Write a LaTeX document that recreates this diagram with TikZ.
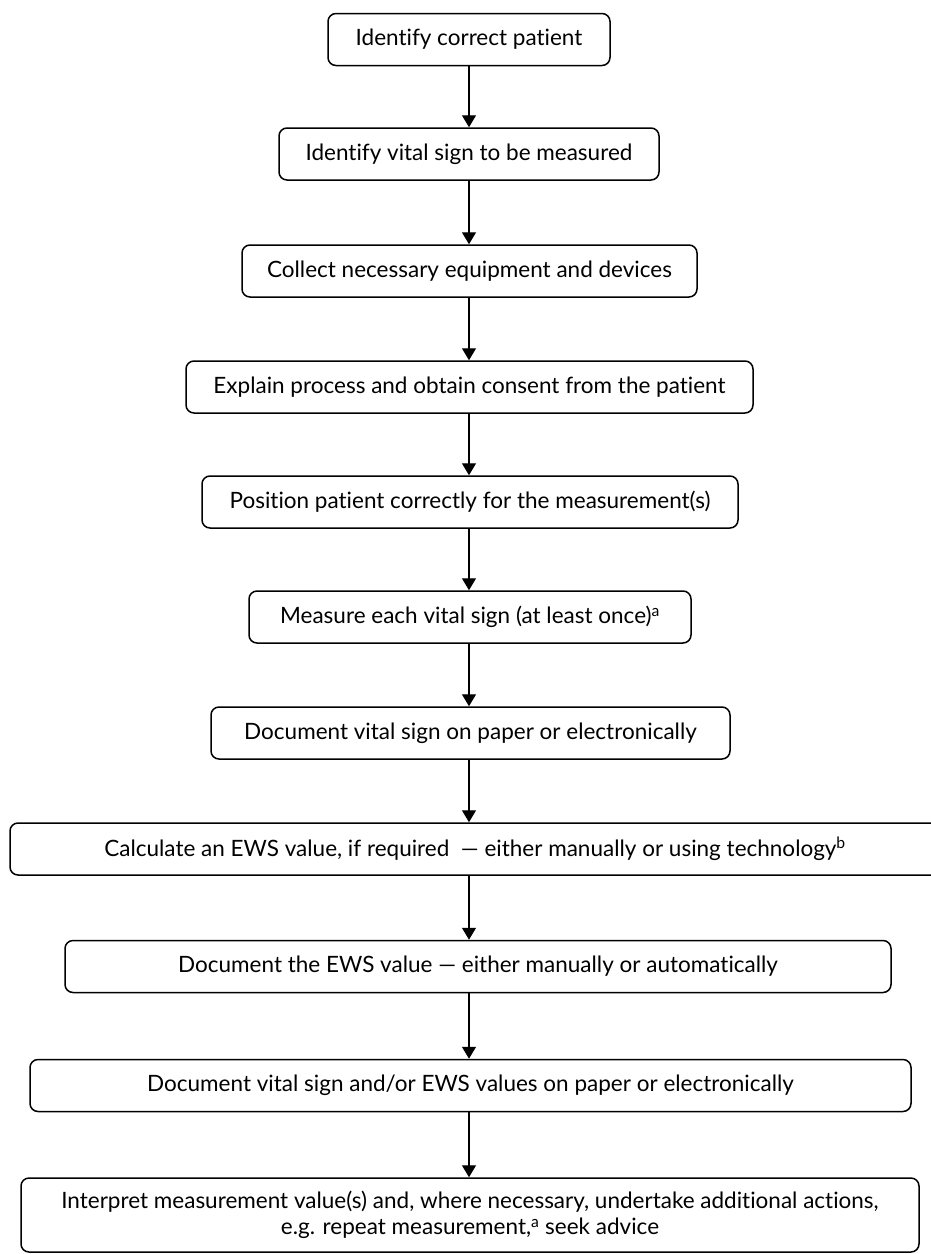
\documentclass[tikz,border=0pt]{standalone}
\usepackage{fontspec}
\setmainfont{Lato}[Ligatures=NoCommon]
\usepackage{tikz}
\usetikzlibrary{arrows.meta, positioning}
\tikzstyle{stepbox} = [draw, rounded corners=8pt, line width=1.5pt, inner sep=0pt, minimum height=52pt, text centered, font=\fontsize{22.5}{26.5}\selectfont]
\tikzstyle{arrow} = [line width=1.2pt, -{Triangle[length=12pt, width=14pt]}]

\begin{document}
\begin{tikzpicture}[x=1pt, y=1pt]
        \useasboundingbox (0,0) rectangle (931,-1254);
        % Spine that all arrows follow
        \coordinate (spine) at (469,0);

        % Preparation steps
        \node (identify) [stepbox, minimum width=282pt] at (469,-39.5) {Identify correct patient};
        \node (vital) [stepbox, minimum width=380pt] at (469,-154) {Identify vital sign to be measured};
        \node (collect) [stepbox, minimum width=455pt] at (469.5,-271) {Collect necessary equipment and devices};
        \node (explain) [stepbox, minimum width=567pt] at (469.5,-387) {Explain process and obtain consent from the patient};
        \node (position) [stepbox, minimum width=536pt] at (470,-502) {Position patient correctly for the measurement(s)};

        % Measuring and recording
        \node (measure) [stepbox, minimum width=442pt] at (470,-617) {Measure each vital sign (at least once)\textsuperscript{a}};
        \node (docvital) [stepbox, minimum width=519pt] at (470.5,-733) {Document vital sign on paper or electronically};
        \node (calc) [stepbox, minimum width=930pt] at (475,-849) {Calculate an EWS value, if required~ — either manually or using technology\textsuperscript{b}};
        \node (docews) [stepbox, minimum width=826pt] at (478,-966.5) {Document the EWS value — either manually or automatically};
        \node (docboth) [stepbox, minimum width=881pt] at (470.5,-1085.5) {Document vital sign and/or EWS values on paper or electronically};

        % Last step: interpretation
        \node (interpret) [stepbox, minimum width=898pt, minimum height=74pt, align=center] at (470,-1215) {Interpret measurement value(s) and, where necessary, undertake additional actions,\\ e.g. repeat measurement,\textsuperscript{a} seek advice};

        % Arrows
        \draw[arrow] (spine |- identify.south) -- (spine |- vital.north);
        \draw[arrow] (spine |- vital.south) -- (spine |- collect.north);
        \draw[arrow] (spine |- collect.south) -- (spine |- explain.north);
        \draw[arrow] (spine |- explain.south) -- (spine |- position.north);
        \draw[arrow] (spine |- position.south) -- (spine |- measure.north);
        \draw[arrow] (spine |- measure.south) -- (spine |- docvital.north);
        \draw[arrow] (spine |- docvital.south) -- (spine |- calc.north);
        \draw[arrow] (spine |- calc.south) -- (spine |- docews.north);
        \draw[arrow] (spine |- docews.south) -- (spine |- docboth.north);
        \draw[arrow] (spine |- docboth.south) -- (spine |- interpret.north);
    \end{tikzpicture}
\end{document}
